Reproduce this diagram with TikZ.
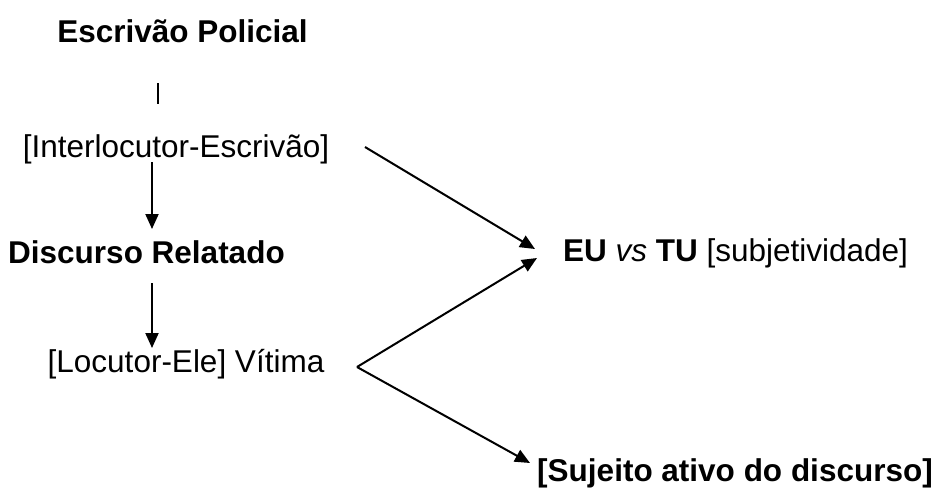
\documentclass[tikz,border=0pt]{standalone}
\usepackage{fontspec}
\setmainfont{Liberation Sans}
\usetikzlibrary{arrows.meta}
\begin{document}
\begin{tikzpicture}[x=1pt,y=-1pt,
  lbl/.style={inner sep=0pt,anchor=base,font=\fontsize{31.5}{38}\selectfont},
  blbl/.style={lbl,font=\fontsize{31.5}{38}\selectfont\bfseries},
  link/.style={line width=2pt},
  arr/.style={link,-{Triangle[length=15pt,width=13pt]}}]
\useasboundingbox (0,0) rectangle (940,488);
\node[blbl] (esc) at (182.5,42) {Escrivão Policial};
\node[lbl] (inter) at (176,157) {[Interlocutor-Escrivão]};
\node[blbl] (disc) at (146.5,263) {Discurso Relatado};
\node[lbl] (loc) at (186,372) {[Locutor-Ele] Vítima};
\node[lbl] (eu) at (735.5,261) {\textbf{EU} \textit{vs} \textbf{TU} [subjetividade]};
\node[blbl] (suj) at (735,481) {[Sujeito ativo do discurso]};
\coordinate (v1) at (158,83);
\coordinate (v2) at (158,104);
\coordinate (a1) at (152,162);
\coordinate (a2) at (152,229);
\coordinate (b1) at (152,283);
\coordinate (b2) at (152,348);
\coordinate (c1) at (365,147);
\coordinate (c2) at (535,249);
\coordinate (vx) at (357,367);
\coordinate (d2) at (537,258);
\coordinate (e2) at (530,463);
\draw[link] (v1) -- (v2);
\draw[arr] (a1) -- (a2);
\draw[arr] (b1) -- (b2);
\draw[arr] (c1) -- (c2);
\draw[arr] (vx) -- (d2);
\draw[arr] (vx) -- (e2);
\end{tikzpicture}
\end{document}
